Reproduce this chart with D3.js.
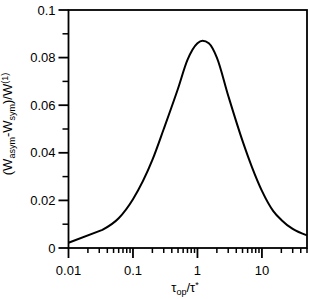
<!DOCTYPE html>
<html><head><meta charset="utf-8">
<script src="https://cdn.jsdelivr.net/npm/d3@7"></script>
<style>body{margin:0;background:#fff}svg{display:block}</style>
</head><body>
<script>
const xVals = [0.01, 0.0335, 0.06, 0.1, 0.2, 0.3, 0.5, 0.7, 1, 1.2, 1.5, 2, 3, 5, 7, 10, 15, 20, 30, 50];
const yVals = [0.0022, 0.0076, 0.0125, 0.0205, 0.037, 0.050, 0.067, 0.079, 0.086, 0.0871, 0.086, 0.080, 0.064, 0.045, 0.034, 0.024, 0.0155, 0.0118, 0.0080, 0.0053];
const xTickVals = [0.01, 0.1, 1, 10];
const xTickLabels = ["0.01", "0.1", "1", "10"];
const yTickVals = [0, 0.02, 0.04, 0.06, 0.08, 0.1];
const yTickLabels = ["0", "0.02", "0.04", "0.06", "0.08", "0.1"];

const W = 309, H = 299;
const m = {l: 68.5, r: 307, t: 10, b: 248};
const svg = d3.select("body").append("svg").attr("width", W).attr("height", H);
const x = d3.scaleLog().domain([0.01, 50]).range([m.l, m.r]);
const y = d3.scaleLinear().domain([0, 0.1]).range([m.b, m.t]);
const font = "'Liberation Sans', Arial, sans-serif";

// minor ticks
const minorX = [];
for (let d = 0.01; d < 50; d *= 10) for (let k = 2; k < 10; k++) { const v = d * k; if (v <= 50) minorX.push(v); }
const gx = svg.append("g").attr("transform", `translate(0,${m.b})`);
gx.selectAll("line.mn").data(minorX).join("line").attr("x1", d => x(d)).attr("x2", d => x(d)).attr("y1", 0).attr("y2", 5).attr("stroke", "#000").attr("stroke-width", 1.5);
gx.selectAll("line.mj").data(xTickVals).join("line").attr("x1", d => x(d)).attr("x2", d => x(d)).attr("y1", 0).attr("y2", 10).attr("stroke", "#000").attr("stroke-width", 1.8);
gx.selectAll("text").data(xTickVals).join("text").attr("x", d => x(d)).attr("y", 27).attr("text-anchor", "middle")
  .attr("font-family", font).attr("font-size", 13).text((d, i) => xTickLabels[i]);

const minorY = [0.01, 0.03, 0.05, 0.07, 0.09];
const gy = svg.append("g").attr("transform", `translate(${m.l},0)`);
gy.selectAll("line.mn").data(minorY).join("line").attr("x1", -6).attr("x2", 0).attr("y1", d => y(d)).attr("y2", d => y(d)).attr("stroke", "#000").attr("stroke-width", 1.5);
gy.selectAll("line.mj").data(yTickVals).join("line").attr("x1", -10).attr("x2", 0).attr("y1", d => y(d)).attr("y2", d => y(d)).attr("stroke", "#000").attr("stroke-width", 1.8);
gy.selectAll("text").data(yTickVals).join("text").attr("x", -13).attr("y", d => y(d) + 4.5).attr("text-anchor", "end")
  .attr("font-family", font).attr("font-size", 13).text((d, i) => yTickLabels[i]);

// frame
svg.append("rect").attr("x", m.l).attr("y", m.t).attr("width", m.r - m.l).attr("height", m.b - m.t)
  .attr("fill", "none").attr("stroke", "#000").attr("stroke-width", 1.8);

// curve: straight first segment, smooth afterwards
const pts = xVals.map((v, i) => [v, yVals[i]]);
const lineLin = d3.line().x(d => x(d[0])).y(d => y(d[1]));
const lineSm = d3.line().x(d => x(d[0])).y(d => y(d[1])).curve(d3.curveMonotoneX);
svg.append("path").attr("fill", "none").attr("stroke", "#000").attr("stroke-width", 2).attr("stroke-linejoin", "round")
  .attr("d", lineLin(pts.slice(0, 2)) + lineSm(pts.slice(1)).replace(/^M[^A-Za-z]*/, ""));

// x title
const xt = svg.append("text").attr("x", 185).attr("y", 292).attr("text-anchor", "middle").attr("font-family", font).attr("font-size", 13);
xt.append("tspan").text("τ");
xt.append("tspan").attr("font-size", 9).attr("dy", 3).text("op");
xt.append("tspan").attr("dy", -3).text("/τ");
xt.append("tspan").attr("font-size", 9).attr("dy", -4).text("*");

// y title
const yt = svg.append("text").attr("transform", "translate(12,124) rotate(-90)").attr("text-anchor", "middle").attr("font-family", font).attr("font-size", 13);
yt.append("tspan").text("(W");
yt.append("tspan").attr("font-size", 9).attr("dy", 3).text("asym");
yt.append("tspan").attr("dy", -3).text("-W");
yt.append("tspan").attr("font-size", 9).attr("dy", 3).text("sym");
yt.append("tspan").attr("dy", -3).text(")/W");
yt.append("tspan").attr("font-size", 9).attr("dy", -4).text("(1)");
</script>
</body></html>
